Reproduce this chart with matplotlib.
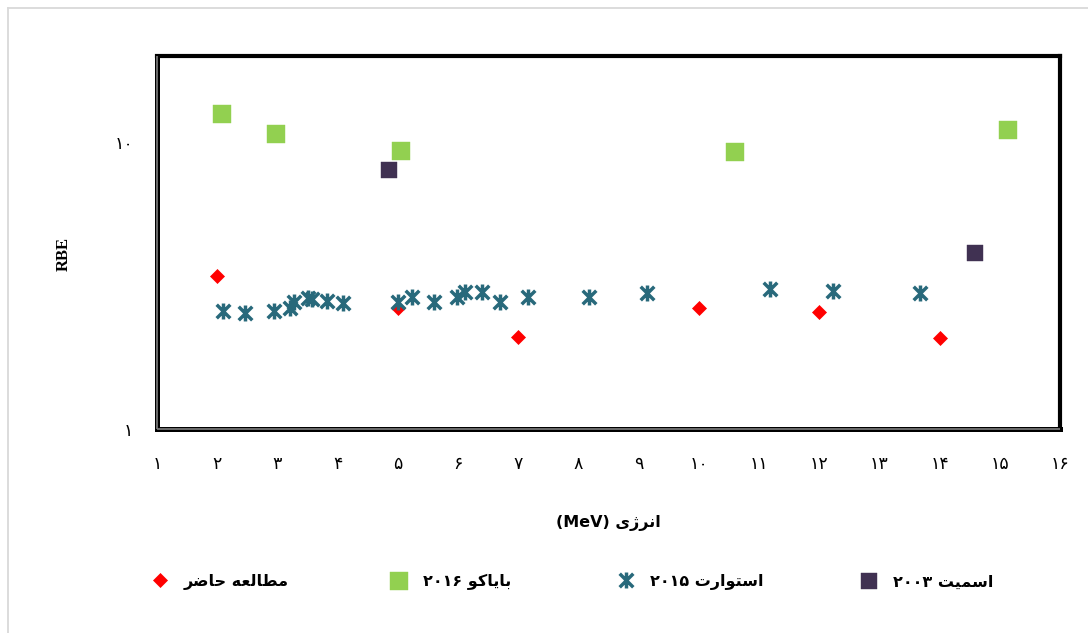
import matplotlib
matplotlib.use("Agg")
import matplotlib.pyplot as plt
from matplotlib.path import Path
from matplotlib.lines import Line2D

# ---------------- data ----------------
present_x = [2, 5, 7, 10, 12, 14]
present_y = [3.43, 2.64, 2.09, 2.64, 2.56, 2.08]

bayakov_x = [2.08, 2.97, 5.05, 10.6, 15.14]
bayakov_y = [12.6, 10.7, 9.33, 9.25, 11.0]

stuart_x = [2.10, 2.46, 2.94, 3.21, 3.28, 3.50, 3.58, 3.82, 4.09, 5.01, 5.24,
            5.60, 5.98, 6.12, 6.40, 6.69, 7.16, 8.18, 9.14, 11.18, 12.23, 13.67]
stuart_y = [2.58, 2.53, 2.59, 2.64, 2.78, 2.87, 2.83, 2.80, 2.74, 2.78, 2.89,
            2.78, 2.89, 3.00, 3.00, 2.78, 2.89, 2.89, 2.98, 3.08, 3.03, 2.98]

smith_x = [4.86, 14.59]
smith_y = [7.99, 4.11]

x_ticks = list(range(1, 17))
y_ticks = [1, 10]

# ---------------- Persian text helpers ----------------
FORMS = {
    'ا': ('\uFE8D', '\uFE8E', None, None),
    'ب': ('\uFE8F', '\uFE90', '\uFE91', '\uFE92'),
    'ت': ('\uFE95', '\uFE96', '\uFE97', '\uFE98'),
    'ح': ('\uFEA1', '\uFEA2', '\uFEA3', '\uFEA4'),
    'ر': ('\uFEAD', '\uFEAE', None, None),
    'ژ': ('\uFB8A', '\uFB8B', None, None),
    'س': ('\uFEB1', '\uFEB2', '\uFEB3', '\uFEB4'),
    'ض': ('\uFEBD', '\uFEBE', '\uFEBF', '\uFEC0'),
    'ط': ('\uFEC1', '\uFEC2', '\uFEC3', '\uFEC4'),
    'ع': ('\uFEC9', '\uFECA', '\uFECB', '\uFECC'),
    '\u06A9': ('\uFB8E', '\uFB8F', '\uFB90', '\uFB91'),
    'ل': ('\uFEDD', '\uFEDE', '\uFEDF', '\uFEE0'),
    'م': ('\uFEE1', '\uFEE2', '\uFEE3', '\uFEE4'),
    'ن': ('\uFEE5', '\uFEE6', '\uFEE7', '\uFEE8'),
    'ه': ('\uFEE9', '\uFEEA', '\uFEEB', '\uFEEC'),
    'و': ('\uFEED', '\uFEEE', None, None),
    '\u06CC': ('\uFBFC', '\uFBFD', '\uFBFE', '\uFBFF'),
}


def ar(text):
    """Shape and reverse a purely Persian string for LTR rendering."""
    text = text.replace('\u064A', '\u06CC').replace('\u0643', '\u06A9')
    chars = list(text)
    out = []
    for i, c in enumerate(chars):
        if c not in FORMS:
            out.append(c)
            continue
        prev = chars[i - 1] if i > 0 else None
        nxt = chars[i + 1] if i + 1 < len(chars) else None
        jp = prev in FORMS and FORMS[prev][2] is not None
        jn = nxt in FORMS and FORMS[c][2] is not None
        iso, fin, ini, med = FORMS[c]
        if jp and jn:
            out.append(med)
        elif jp:
            out.append(fin)
        elif jn:
            out.append(ini)
        else:
            out.append(iso)
    return ''.join(reversed(out))


FA_DIGITS = str.maketrans('0123456789', '\u06F0\u06F1\u06F2\u06F3\u06F4\u06F5\u06F6\u06F7\u06F8\u06F9')


def fa(n):
    return str(n).translate(FA_DIGITS)


labels = [
    ar('مطالعه حاضر'),
    fa(2016) + ' ' + ar('بایاکو'),
    fa(2015) + ' ' + ar('استوارت'),
    fa(2003) + ' ' + ar('اسمیت'),
]
xlabel = '(MeV) ' + ar('انرژی')

# ---------------- styles ----------------
plt.rcParams['font.family'] = ['DejaVu Sans']

star = Path([(0, -1), (0, 1), (-0.85, -0.85), (0.85, 0.85), (-0.85, 0.85), (0.85, -0.85)],
            [Path.MOVETO, Path.LINETO, Path.MOVETO, Path.LINETO, Path.MOVETO, Path.LINETO])

C_RED = '#FF0000'
C_GREEN = '#92D050'
C_TEAL = '#28697B'
C_PURPLE = '#403152'

fig = plt.figure(figsize=(10.88, 6.33), dpi=100)
ax = fig.add_axes([157 / 1088, 1 - 429 / 633, (1060 - 157) / 1088, (429 - 56) / 633])

h_red, = ax.plot(present_x, present_y, ls='none', marker='D', ms=7.0,
                 mfc=C_RED, mec=C_RED, mew=0.5, zorder=3)
h_green, = ax.plot(bayakov_x, bayakov_y, ls='none', marker='s', ms=12.8,
                   mfc=C_GREEN, mec=C_GREEN, mew=0.3, zorder=3)
h_teal, = ax.plot(stuart_x, stuart_y, ls='none', marker=star, ms=11.5,
                  mfc='none', mec=C_TEAL, mew=2.5, zorder=4)
h_purple, = ax.plot(smith_x, smith_y, ls='none', marker='s', ms=12.0,
                    mfc=C_PURPLE, mec=C_PURPLE, mew=0.3, zorder=4)

ax.set_yscale('log')
ax.set_xlim(1, 16)
ax.set_ylim(1, 20)
ax.set_xticks(x_ticks)
ax.set_xticklabels([fa(v) for v in x_ticks], fontsize=12.5)
ax.set_yticks(y_ticks)
ax.set_yticklabels([fa(v) for v in y_ticks], fontsize=12.5)
ax.yaxis.set_minor_locator(matplotlib.ticker.NullLocator())
ax.tick_params(axis='both', length=0)
ax.tick_params(axis='x', pad=19)
ax.tick_params(axis='y', pad=17)

ax.set_xlabel(xlabel, fontsize=11.5, fontweight='bold', labelpad=30)
ax.set_ylabel('RBE', fontsize=12, fontweight='bold', family='Liberation Serif')
ax.yaxis.set_label_coords(-0.094, 0.47)

for side in ['top', 'right']:
    ax.spines[side].set_linewidth(3.0)
    ax.spines[side].set_color('black')
for side in ['left', 'bottom']:
    ax.spines[side].set_linewidth(3.6)
    ax.spines[side].set_color('black')
ax.plot([0, 0], [0, 1], transform=ax.transAxes, color='#7F7F7F', lw=1.2,
        clip_on=False, zorder=10, solid_capstyle='butt')
ax.plot([0, 1], [0, 0], transform=ax.transAxes, color='#7F7F7F', lw=1.2,
        clip_on=False, zorder=10, solid_capstyle='butt')

# outer chart border
fig.add_artist(Line2D([8 / 1088, 1], [1 - 8 / 633, 1 - 8 / 633], color='#D9D9D9', lw=1.3))
fig.add_artist(Line2D([8 / 1088, 8 / 1088], [0, 1 - 8 / 633], color='#D9D9D9', lw=1.3))

# legend, one entry per position
handles = [h_red, h_green, h_teal, h_purple]
leg_x = [150, 389, 616, 859]
for h, lab, lx in zip(handles, labels, leg_x):
    fig.legend([h], [lab], loc='center left', bbox_to_anchor=(lx / 1088, 1 - 582 / 633),
               frameon=False, prop={'weight': 'bold', 'size': 11.5},
               handlelength=1.2, handletextpad=0.9, borderpad=0, borderaxespad=0)

fig.savefig('out.png', dpi=100)
